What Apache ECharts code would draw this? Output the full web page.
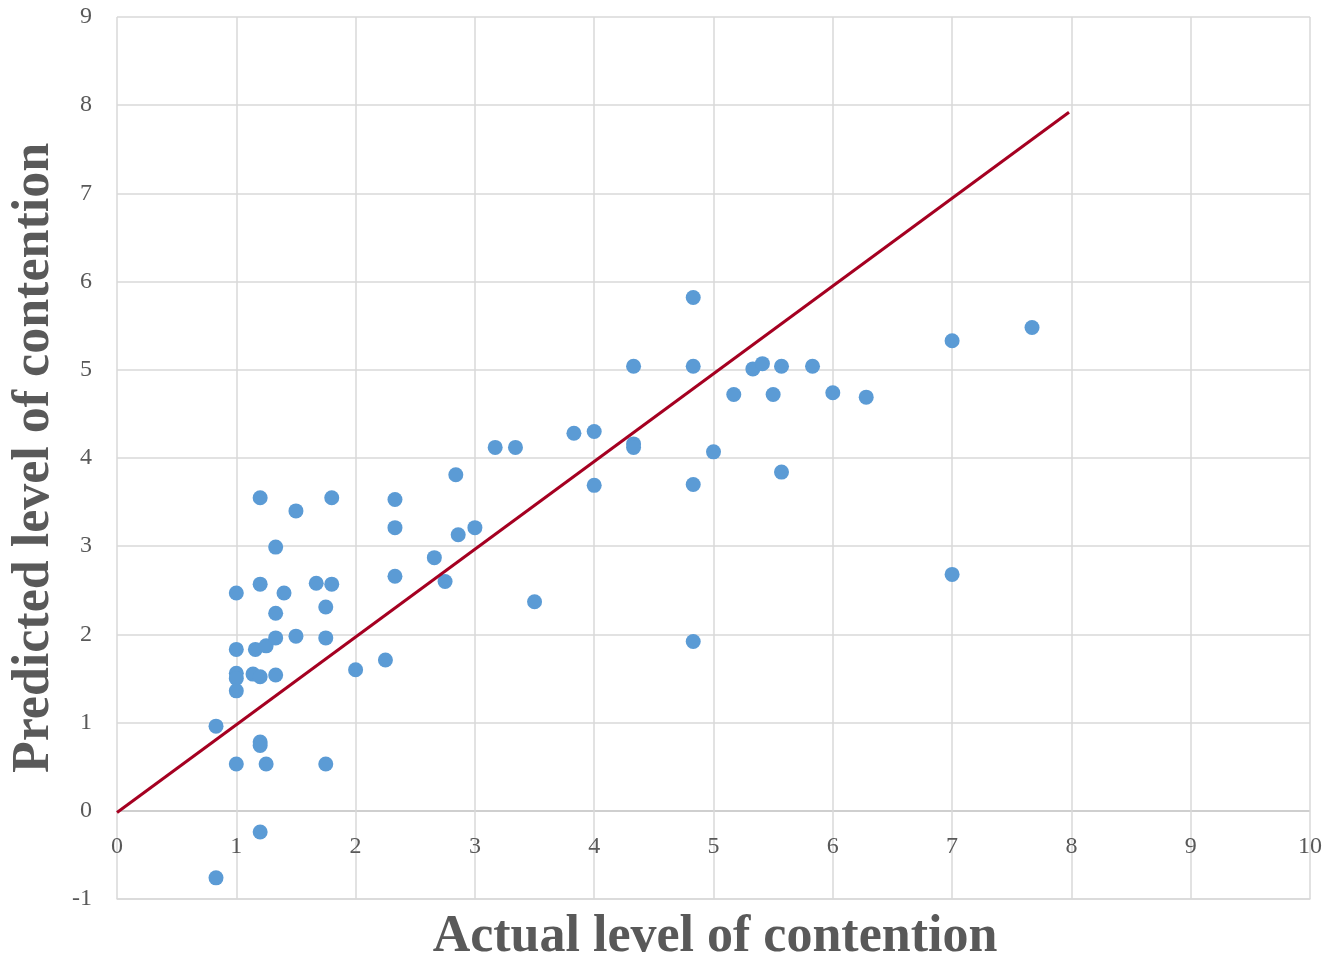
<!DOCTYPE html>
<html>
<head>
<meta charset="utf-8">
<script src="https://cdn.jsdelivr.net/npm/echarts@6/dist/echarts.min.js"></script>
<style>
  html, body { margin: 0; padding: 0; background: #fff; }
  #chart { width: 1325px; height: 958px; }
</style>
</head>
<body>
<div id="chart"></div>
<script>
// actual vs predicted contention
const actual = [
  0.83, 0.83, 1.0, 1.0, 1.0, 1.0, 1.0, 1.0,
  1.2, 1.2, 1.16, 1.25, 1.14, 1.2, 1.2, 1.2, 1.25, 1.2,
  1.33, 1.4, 1.33, 1.33, 1.33, 1.5, 1.5, 1.67, 1.75, 1.75, 1.75, 1.8, 1.8,
  2.0, 2.25, 2.33, 2.33, 2.33, 2.66, 2.75, 2.84, 2.86, 3.0,
  3.17, 3.34, 3.5, 3.83, 4.0, 4.0, 4.33, 4.33, 4.33,
  4.83, 4.83, 4.83, 4.83, 5.0, 5.17, 5.33, 5.41, 5.5, 5.57, 5.57, 5.83,
  6.0, 6.28, 7.0, 7.0, 7.67
];
const predicted = [
  -0.76, 0.96, 2.47, 1.83, 1.56, 1.50, 1.36, 0.53,
  3.55, 2.57, 1.83, 1.87, 1.55, 1.52, 0.78, 0.74, 0.53, -0.24,
  2.99, 2.47, 2.24, 1.96, 1.54, 3.40, 1.98, 2.58, 2.31, 1.96, 0.53, 3.55, 2.57,
  1.60, 1.71, 3.53, 3.21, 2.66, 2.87, 2.60, 3.81, 3.13, 3.21,
  4.12, 4.12, 2.37, 4.28, 4.30, 3.69, 5.04, 4.16, 4.12,
  5.82, 5.04, 3.70, 1.92, 4.07, 4.72, 5.01, 5.07, 4.72, 5.04, 3.84, 5.04,
  4.74, 4.69, 5.33, 2.68, 5.48
];
// fitted line end points
const lineX = [0, 7.98];
const lineY = [-0.02, 7.92];

const xTicks = [0, 1, 2, 3, 4, 5, 6, 7, 8, 9, 10];
const yTicks = [-1, 0, 1, 2, 3, 4, 5, 6, 7, 8, 9];

let chart = echarts.init(document.getElementById("chart"));

const fontFamily = "'Palatino Linotype', 'Book Antiqua', Palatino, 'Liberation Serif', serif";
const grey = "#595959";

let option = {
  animation: false,
  textStyle: { fontFamily: fontFamily },
  grid: { left: 117, right: 13, top: 17, bottom: 59, containLabel: false },
  xAxis: {
    type: "value",
    min: xTicks[0],
    max: xTicks[xTicks.length - 1],
    interval: 1,
    axisLine: { show: true, onZero: false, lineStyle: { color: "#d9d9d9", width: 1.5 } },
    axisTick: { show: false },
    // labels sit just under the zero line, like the original
    axisLabel: { color: grey, fontSize: 24, margin: -64, fontFamily: fontFamily },
    splitLine: { show: true, lineStyle: { color: "#d9d9d9", width: 1.5 } }
  },
  yAxis: {
    type: "value",
    min: yTicks[0],
    max: yTicks[yTicks.length - 1],
    interval: 1,
    axisLine: { show: false },
    axisTick: { show: false },
    axisLabel: { color: grey, fontSize: 24, margin: 25, fontFamily: fontFamily },
    splitLine: {
      show: true,
      lineStyle: {
        color: ["#d9d9d9", "#bfbfbf", "#d9d9d9", "#d9d9d9", "#d9d9d9", "#d9d9d9",
                "#d9d9d9", "#d9d9d9", "#d9d9d9", "#d9d9d9", "#d9d9d9"],
        width: 1.5
      }
    }
  },
  graphic: [
    {
      type: "text",
      x: 715, y: 938,
      style: {
        text: "Actual level of contention",
        fill: grey,
        font: "bold 52px " + fontFamily,
        textAlign: "center",
        textVerticalAlign: "middle"
      }
    },
    {
      type: "text",
      x: 35, y: 458,
      rotation: Math.PI / 2,
      style: {
        text: "Predicted level of contention",
        fill: grey,
        font: "bold 52px " + fontFamily,
        textAlign: "center",
        textVerticalAlign: "middle"
      }
    }
  ],
  series: [
    {
      type: "scatter",
      symbol: "circle",
      symbolSize: 15,
      itemStyle: { color: "#5b9bd5", opacity: 1 },
      data: actual.map((x, i) => [x, predicted[i]]),
      z: 3
    },
    {
      type: "line",
      showSymbol: false,
      lineStyle: { color: "#a50021", width: 3 },
      data: lineX.map((x, i) => [x, lineY[i]]),
      z: 4
    }
  ]
};

chart.setOption(option);
</script>
</body>
</html>
